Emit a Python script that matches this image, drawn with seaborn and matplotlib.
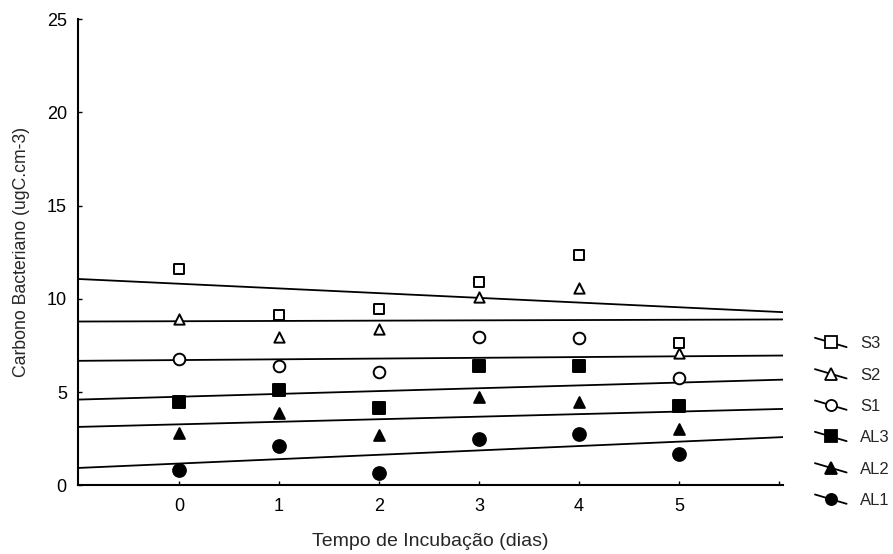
import matplotlib
matplotlib.use("Agg")
import matplotlib.pyplot as plt
from matplotlib.lines import Line2D
from matplotlib.legend_handler import HandlerLine2D
import seaborn as sns
import numpy as np
import pandas as pd

# incubation days and bacterial carbon per treatment
days = [0, 1, 2, 3, 4, 5]
s3 = [11.60, 9.15, 9.45, 10.93, 12.33, 7.63]
s2 = [8.92, 7.95, 8.38, 10.10, 10.61, 7.09]
s1 = [6.77, 6.41, 6.09, 7.98, 7.90, 5.78]
al3 = [4.46, 5.09, 4.16, 6.41, 6.41, 4.28]
al2 = [2.83, 3.91, 2.71, 4.73, 4.50, 3.03]
al1 = [0.83, 2.12, 0.65, 2.48, 2.78, 1.71]

series = ["S3", "S2", "S1", "AL3", "AL2", "AL1"]
values = [s3, s2, s1, al3, al2, al1]
markers = ["s", "^", "o", "s", "^", "o"]
filled = [False, False, False, True, True, True]
sizes = [55, 55, 70, 75, 60, 85]

sns.set_theme(style="ticks")
plt.rcParams["font.family"] = ["Liberation Sans", "DejaVu Sans"]
plt.rcParams["xtick.direction"] = "in"
plt.rcParams["ytick.direction"] = "in"

fig = plt.figure(figsize=(8.93, 5.54), dpi=100)
ax = fig.add_axes([0.0873, 0.1237, 0.7895, 0.842])
ax.set_xlim(-1.01, 6.04)
ax.set_ylim(0, 25)

for name, vals, mk, fl, sz in zip(series, values, markers, filled, sizes):
    df = pd.DataFrame({"day": days, "val": vals})
    sns.regplot(data=df, x="day", y="val", ax=ax, ci=None, truncate=False,
                marker=mk,
                scatter_kws={"color": "black" if fl else "white",
                             "edgecolor": "black", "linewidths": 1.4,
                             "s": sz, "alpha": 1, "zorder": 3},
                line_kws={"color": "black", "linewidth": 1.3, "zorder": 2})

ax.set_xticks([0, 1, 2, 3, 4, 5, 6])
ax.set_xticklabels(["0", "1", "2", "3", "4", "5", ""])
ax.set_yticks([0, 5, 10, 15, 20, 25])
ax.tick_params(axis="both", labelsize=13, length=3, width=1, colors="black")
ax.tick_params(axis="x", pad=9)
ax.tick_params(axis="y", pad=8)
for side in ["left", "bottom"]:
    ax.spines[side].set_linewidth(1.5)
    ax.spines[side].set_color("black")
sns.despine(ax=ax)

ax.set_xlabel("Tempo de Incubação (dias)", fontsize=14, labelpad=13)
ax.set_ylabel("Carbono Bacteriano (ugC.cm-3)", fontsize=12.7, labelpad=12)


class SlantHandler(HandlerLine2D):
    def create_artists(self, legend, orig_handle, xdescent, ydescent,
                       width, height, fontsize, trans):
        artists = super().create_artists(legend, orig_handle, xdescent, ydescent,
                                         width, height, fontsize, trans)
        line = artists[0]
        xs = line.get_xdata()
        mid = (height - ydescent) / 2
        line.set_ydata(np.linspace(mid + height * 0.4, mid - height * 0.4, len(xs)))
        return artists


handles = []
for name, mk, fl in zip(series, markers, filled):
    handles.append(Line2D([], [], color="black", linewidth=1.3, marker=mk,
                          markersize=8, markerfacecolor="black" if fl else "white",
                          markeredgecolor="black", markeredgewidth=1.3, label=name))

fig.legend(handles=handles, labels=series, loc="center left",
           bbox_to_anchor=(0.9126, 0.238), frameon=False, fontsize=12,
           handlelength=1.9, handletextpad=0.8, labelspacing=0.98,
           borderpad=0, borderaxespad=0,
           handler_map={Line2D: SlantHandler(numpoints=1)})

fig.savefig("out.png", dpi=100)
